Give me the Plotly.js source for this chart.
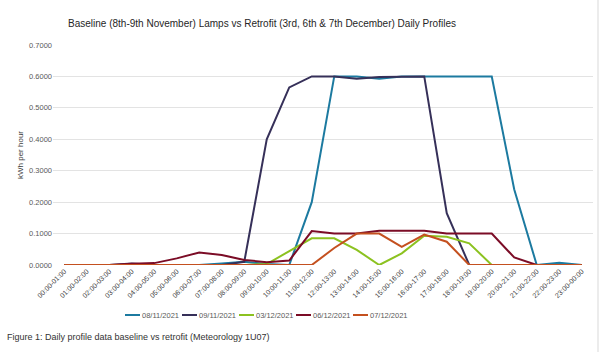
<!DOCTYPE html>
<html>
<head>
<meta charset="utf-8">
<script src="https://cdn.plot.ly/plotly-3.0.1.min.js"></script>
<style>
  html, body { margin: 0; padding: 0; background: #ffffff; }
  #chart { width: 602px; height: 352px; }
</style>
</head>
<body>
<div id="chart"></div>
<script>
const categories = ["00:00-01:00","01:00-02:00","02:00-03:00","03:00-04:00","04:00-05:00","05:00-06:00",
  "06:00-07:00","07:00-08:00","08:00-09:00","09:00-10:00","10:00-11:00","11:00-12:00",
  "12:00-13:00","13:00-14:00","14:00-15:00","15:00-16:00","16:00-17:00","17:00-18:00",
  "18:00-19:00","19:00-20:00","20:00-21:00","21:00-22:00","22:00-23:00","23:00-00:00"];

const seriesNames = ["08/11/2021","09/11/2021","03/12/2021","06/12/2021","07/12/2021"];

const s08_11 = [0,0,0,0,0,0,0,0.005,0.010,0.003,0,0.200,0.600,0.600,0.593,0.600,0.600,0.600,0.600,0.600,0.240,0,0.007,0];
const s09_11 = [0,0,0,0.005,0,0,0,0,0.010,0.400,0.565,0.600,0.600,0.593,0.598,0.600,0.600,0.165,0,0,0,0,0,0];
const s03_12 = [0,0,0,0,0,0,0,0,0,0.003,0.045,0.085,0.085,0.048,0,0.037,0.093,0.090,0.069,0,0,0,0,0];
const s06_12 = [0,0,0,0.004,0.006,0.021,0.040,0.032,0.016,0.009,0.014,0.108,0.100,0.100,0.109,0.109,0.109,0.100,0.100,0.100,0.024,0,0,0];
const s07_12 = [0,0,0,0,0,0,0,0,0,0,0,0,0.054,0.100,0.100,0.058,0.097,0.074,0,0,0,0,0,0];

const yTicks = [0,0.1,0.2,0.3,0.4,0.5,0.6,0.7];

const allSeries = [s08_11, s09_11, s03_12, s06_12, s07_12];
const colors = ["#1c7aa0", "#363059", "#8cc220", "#7b0c26", "#c4501f"];

const W = 602, H = 352;
const ML = 53, MR = 9, MT = 45, MB = 87;
const PW = W - ML - MR, PH = H - MT - MB;
const px = x => (x - ML) / PW;       // pixel x -> paper x
const py = y => (H - MB - y) / PH;   // pixel y -> paper y

const traces = allSeries.map((vals, k) => ({
  type: "scatter",
  mode: "lines",
  name: seriesNames[k],
  x: categories,
  y: vals,
  line: { color: colors[k], width: 2 },
  showlegend: false
}));

// custom compact legend (Excel style: short line + label)
const legendStart = 125, legendStep = 57, legendY = 315;
const legendShapes = seriesNames.map((n, k) => ({
  type: "line", xref: "paper", yref: "paper",
  x0: px(legendStart + k * legendStep), x1: px(legendStart + k * legendStep + 15),
  y0: py(legendY), y1: py(legendY),
  line: { color: colors[k], width: 2 }
}));
const legendTexts = seriesNames.map((n, k) => ({
  text: n, xref: "paper", yref: "paper",
  x: px(legendStart + k * legendStep + 15), xanchor: "left",
  y: py(legendY), yanchor: "middle",
  showarrow: false,
  font: { size: 7.5, color: "#595959" }
}));

const layout = {
  width: W,
  height: H,
  paper_bgcolor: "#ffffff",
  plot_bgcolor: "#ffffff",
  margin: { l: ML, r: MR, t: MT, b: MB },
  font: { family: "Liberation Sans, Arial, sans-serif", color: "#595959" },
  title: {
    text: "Baseline (8th-9th November) Lamps vs Retrofit (3rd, 6th & 7th December) Daily Profiles",
    font: { size: 10, color: "#262626", family: "Liberation Sans, Arial, sans-serif" },
    x: 262 / W,
    xanchor: "center",
    xref: "container",
    y: 1 - 23 / H,
    yanchor: "middle",
    yref: "container"
  },
  xaxis: {
    type: "category",
    range: [-0.5, 23.5],
    tickangle: -45,
    tickfont: { size: 7, color: "#404040" },
    showgrid: false,
    showline: false,
    zeroline: false,
    ticks: "",
    automargin: false,
    fixedrange: true
  },
  yaxis: {
    range: [0, 0.7],
    tickvals: yTicks,
    tickformat: ".4f",
    tickfont: { size: 7.5, color: "#595959" },
    showgrid: true,
    gridcolor: "#e3e3e3",
    gridwidth: 1,
    zeroline: false,
    showline: false,
    ticks: "",
    automargin: false,
    title: { text: "kWh per hour", font: { size: 8, color: "#404040" }, standoff: 4 }
  },
  showlegend: false,
  annotations: [{
    text: "Figure 1: Daily profile data baseline vs retrofit (Meteorology 1U07)",
    xref: "paper", yref: "paper",
    x: px(5), xanchor: "left",
    y: py(337), yanchor: "middle",
    showarrow: false,
    font: { size: 9, color: "#333333" }
  }].concat(legendTexts),
  shapes: [{
    type: "line", xref: "paper", yref: "paper",
    x0: px(598), x1: px(598),
    y0: py(H), y1: py(0),
    line: { color: "#d9d9d9", width: 1 }
  }].concat(legendShapes)
};

Plotly.newPlot("chart", traces, layout, { displayModeBar: false, staticPlot: true });
</script>
</body>
</html>
